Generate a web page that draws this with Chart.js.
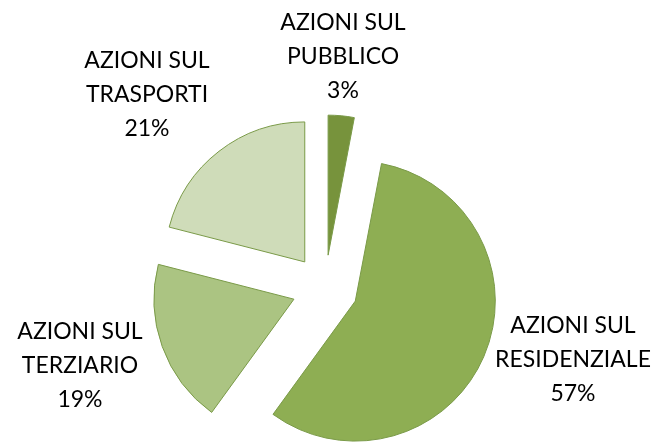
<!DOCTYPE html>
<html>
<head>
<meta charset="utf-8">
<script src="https://cdn.jsdelivr.net/npm/chart.js@4"></script>
<style>
  body { margin: 0; background: #fff; }
  #wrap { width: 657px; height: 442px; }
</style>
</head>
<body>
<div id="wrap"><canvas id="pie" width="657" height="442"></canvas></div>
<script>
// dati
const categories = ['AZIONI SUL PUBBLICO', 'AZIONI SUL RESIDENZIALE', 'AZIONI SUL TERZIARIO', 'AZIONI SUL TRASPORTI'];
const labelLines = [
  ['AZIONI SUL', 'PUBBLICO'],
  ['AZIONI SUL', 'RESIDENZIALE'],
  ['AZIONI SUL', 'TERZIARIO'],
  ['AZIONI SUL', 'TRASPORTI']
];
const values = [3, 57, 19, 21];
const colors = ['#77933c', '#8eae53', '#abc482', '#cfdcb9'];

// posizione delle etichette (centro della riga di mezzo)
const labelAnchors = [[343, 57], [573, 360], [80, 366], [147, 95]];
const explode = 33;

// l'offset di chart.js restringe gli spicchi, quindi sposto io i centri (stile "esploso" di Excel)
const explodePlugin = {
  id: 'explode',
  beforeDatasetDraw(chart, args) {
    args.meta.data.forEach(arc => {
      const mid = (arc.startAngle + arc.endAngle) / 2;
      arc._dx = Math.cos(mid) * explode;
      arc._dy = Math.sin(mid) * explode;
      arc.x += arc._dx;
      arc.y += arc._dy;
    });
  },
  afterDatasetDraw(chart, args) {
    args.meta.data.forEach(arc => {
      arc.x -= arc._dx;
      arc.y -= arc._dy;
    });
  }
};

const labelPlugin = {
  id: 'pieLabels',
  afterDatasetsDraw(chart) {
    const ctx = chart.ctx;
    const total = values.reduce((a, b) => a + b, 0);
    ctx.save();
    ctx.fillStyle = '#000';
    ctx.font = '23px Lato';
    ctx.textAlign = 'center';
    ctx.textBaseline = 'middle';
    labelLines.forEach((lines, i) => {
      const [x, y] = labelAnchors[i];
      const pct = Math.round(values[i] / total * 100) + '%';
      const rows = lines.concat([pct]);
      rows.forEach((t, j) => ctx.fillText(t, x, y + (j - 1) * 34));
    });
    ctx.restore();
  }
};

new Chart(document.getElementById('pie'), {
  type: 'pie',
  data: {
    labels: categories,
    datasets: [{
      data: values,
      backgroundColor: colors,
      borderColor: '#7a9a48',
      borderWidth: 1,
      clip: false
    }]
  },
  options: {
    responsive: false,
    animation: false,
    events: [],
    radius: 140,
    layout: { padding: { top: 134, bottom: 0, left: 0, right: 7 } },
    plugins: {
      legend: { display: false },
      tooltip: { enabled: false }
    }
  },
  plugins: [explodePlugin, labelPlugin]
});
</script>
</body>
</html>
